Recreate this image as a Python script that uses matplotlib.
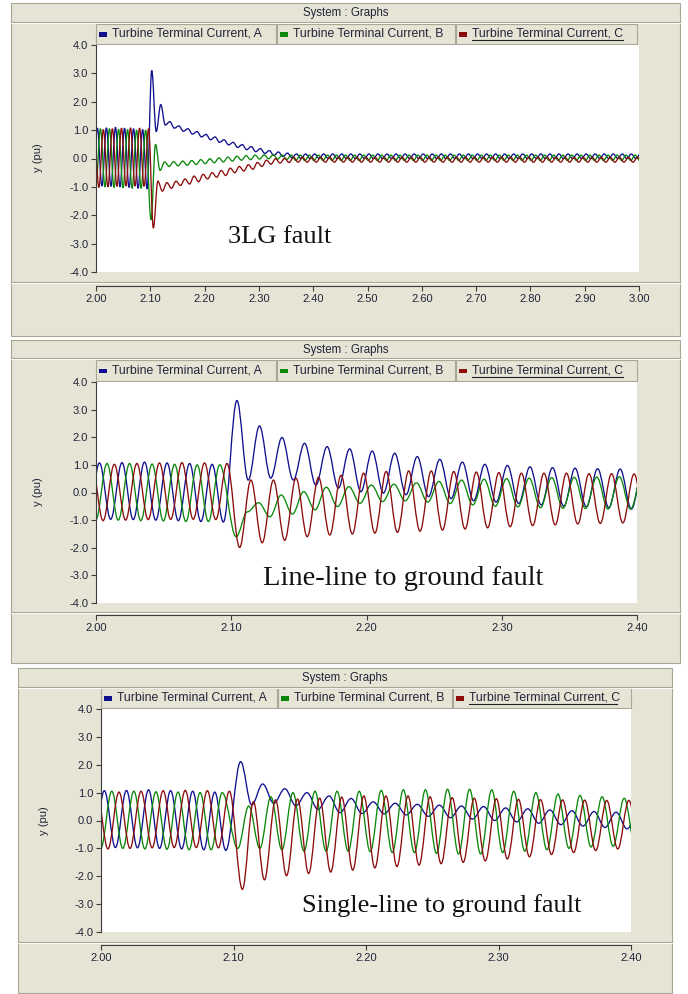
import matplotlib.pyplot as plt
from matplotlib.patches import Rectangle, PathPatch
from matplotlib.path import Path

# 60 Hz, 반주기 간격 (피크/골 샘플)
HALF = 1 / 120

# ---- 고장 전 피크값 (세 그래프 공통) ----
pre_a_t0, pre_b_t0, pre_c_t0 = 1.9942, 1.9998, 1.9969
pre_a = [-0.98, 1.07, -0.97, 1.08, -0.98, 1.10, -1.00, 1.07, -1.02, 1.05, -1.05, 1.02, -1.07]
pre_b = [-1.00, 1.05, -1.00, 1.05, -1.02, 1.03, -1.03, 1.02, -1.05, 1.00, -1.05, 1.00]
pre_c = [1.00, -1.02, 1.02, -1.00, 1.05, -0.98, 1.07, -0.97, 1.08, -0.97, 1.07, -0.98, 1.05]

# ---- 3LG fault (2.00 ~ 3.00) ----
lg3_a_t0 = 2.1026
lg3_a = [3.10, 0.95, 1.90, 1.18, 1.30, 1.07, 1.15, 0.96, 1.05, 0.86, 0.95, 0.76,
         0.85, 0.66, 0.76, 0.57, 0.66, 0.48, 0.57, 0.39, 0.49, 0.31, 0.42, 0.24,
         0.35, 0.18, 0.28, 0.11, 0.23, 0.07, 0.19, 0.03] + [0.16, 0.00] * 39
lg3_b_t0 = 2.1013
lg3_b = [-2.16, 0.50, -0.42, -0.12, -0.28, -0.11, -0.26, -0.09, -0.24, -0.07, -0.21,
         -0.04, -0.18, -0.01, -0.15, 0.02, -0.12, 0.05, -0.09, 0.08, -0.06, 0.10,
         -0.04, 0.12, -0.02, 0.13, -0.01, 0.13, -0.02, 0.12, -0.03] + [0.12, -0.07] * 39
lg3_c_t0 = 2.1056
lg3_c = [-2.45, -0.80, -1.15, -0.85, -1.05, -0.80, -0.95, -0.72, -0.90, -0.62, -0.82,
         -0.56, -0.72, -0.50, -0.66, -0.42, -0.60, -0.34, -0.50, -0.28, -0.44, -0.22,
         -0.38, -0.14, -0.28, -0.06, -0.20, -0.01, -0.16, 0.00, -0.14] + [0.04, -0.13] * 39

# ---- Line-line to ground fault (2.00 ~ 2.40) ----
llg_a_t0 = 2.1042
llg_a = [3.33, 0.45, 2.41, 0.52, 1.99, 0.45, 1.78, 0.27, 1.66, 0.16, 1.58, 0.03, 1.50,
         -0.02, 1.42, -0.08, 1.30, -0.15, 1.20, -0.22, 1.10, -0.30, 1.02, -0.35, 0.98,
         -0.40, 0.93, -0.45, 0.90, -0.50, 0.88, -0.52, 0.86, -0.55, 0.85, -0.60, 0.83]
llg_b_t0 = 2.1036
llg_b = [-1.60, -0.70, -0.37, -0.88, -0.09, -0.78, 0.03, -0.63, 0.19, -0.51, 0.21,
         -0.39, 0.27, -0.33, 0.30, -0.30, 0.35, -0.35, 0.40, -0.40, 0.45, -0.45, 0.48,
         -0.50, 0.50, -0.52, 0.52, -0.55, 0.54, -0.57, 0.55, -0.58, 0.56, -0.60, 0.57,
         -0.60, 0.58]
llg_c_t0 = 2.1062
llg_c = [-1.99, 0.45, -1.82, 0.45, -1.73, 0.52, -1.60, 0.55, -1.54, 0.62, -1.50, 0.70,
         -1.47, 0.76, -1.44, 0.78, -1.40, 0.78, -1.36, 0.76, -1.32, 0.74, -1.28, 0.72,
         -1.24, 0.70, -1.20, 0.70, -1.17, 0.70, -1.14, 0.68, -1.12, 0.68, -1.10, 0.67,
         -1.08]

# ---- Single-line to ground fault (2.00 ~ 2.40) ----
slg_a_t0 = 2.1054
slg_a = [2.11, 0.56, 1.31, 0.62, 1.14, 0.53, 1.00, 0.40, 0.88, 0.28, 0.79, 0.25, 0.67,
         0.24, 0.62, 0.20, 0.58, 0.15, 0.55, 0.10, 0.52, 0.05, 0.50, 0.00, 0.45, -0.05,
         0.42, -0.10, 0.38, -0.15, 0.35, -0.20, 0.32, -0.25, 0.30, -0.30, 0.28]
slg_b_t0 = 2.1032
slg_b = [-1.00, 0.52, -1.00, 0.85, -1.05, 1.00, -1.10, 1.05, -1.10, 1.05, -1.10, 1.05,
         -1.12, 1.08, -1.15, 1.10, -1.15, 1.10, -1.18, 1.12, -1.20, 1.12, -1.20, 1.10,
         -1.15, 1.05, -1.10, 1.00, -1.05, 0.95, -1.00, 0.90, -0.95, 0.85, -0.92, 0.80,
         -0.90]
slg_c_t0 = 2.1067
slg_c = [-2.47, 0.67, -2.13, 0.74, -1.98, 0.77, -1.90, 0.80, -1.85, 0.84, -1.78, 0.88,
         -1.70, 0.88, -1.65, 0.88, -1.60, 0.85, -1.55, 0.82, -1.50, 0.80, -1.45, 0.78,
         -1.38, 0.76, -1.30, 0.75, -1.22, 0.74, -1.15, 0.73, -1.08, 0.72, -1.02, 0.72,
         -0.98]

legend_labels = ['Turbine Terminal Current, A', 'Turbine Terminal Current, B',
                 'Turbine Terminal Current, C']
y_ticks = [-4, -3, -2, -1, 0, 1, 2, 3, 4]
lg3_xticks = [2.0, 2.1, 2.2, 2.3, 2.4, 2.5, 2.6, 2.7, 2.8, 2.9, 3.0]
short_xticks = [2.0, 2.1, 2.2, 2.3, 2.4]

colors = ['#10108e', '#0b880b', '#8c0c0c']
GRAY = '#e5e4d5'
EDGE = '#a8a796'
TXT = '#23233a'

W, H = 688, 994
fig = plt.figure(figsize=(W / 100, H / 100), dpi=100)
fig.patch.set_facecolor('white')

bg = fig.add_axes([0, 0, 1, 1])
bg.set_xlim(0, W)
bg.set_ylim(H, 0)
bg.axis('off')
bg.set_zorder(-1)


def fbox(x0, y0, x1, y1):
    return [x0 / W, 1 - y1 / H, (x1 - x0) / W, (y1 - y0) / H]


def wave_path(segments):
    # 피크/골을 반주기 간격으로 이어 곡선 경로 작성
    verts, codes = [], []
    for t0, vals in segments:
        for k, v in enumerate(vals):
            t = t0 + k * HALF
            if not verts:
                verts.append((t, v))
                codes.append(Path.MOVETO)
            else:
                tp, vp = verts[-1]
                d = (t - tp) * 0.36
                verts += [(tp + d, vp), (t - d, v), (t, v)]
                codes += [Path.CURVE4] * 3
    return Path(verts, codes)


panels = [
    dict(win=(11, 3, 680, 336), title_y=13, title_bot=22, leg=(24, 44),
         boxes=[(96, 276), (277, 455), (456, 637)], plot=(96, 45, 639, 272),
         sep=282, axis_y=286, xmax=3.0, xticks=lg3_xticks, ylab=(38, 158),
         series=[[(pre_a_t0, pre_a), (lg3_a_t0, lg3_a)],
                 [(pre_b_t0, pre_b), (lg3_b_t0, lg3_b)],
                 [(pre_c_t0, pre_c), (lg3_c_t0, lg3_c)]],
         note='3LG fault', note_xy=(228, 243), note_size=19),
    dict(win=(11, 340, 680, 663), title_y=350, title_bot=358, leg=(360, 381),
         boxes=[(96, 276), (277, 455), (456, 637)], plot=(96, 382, 637, 603),
         sep=612, axis_y=615, xmax=2.4, xticks=short_xticks, ylab=(38, 492),
         series=[[(pre_a_t0, pre_a), (llg_a_t0, llg_a)],
                 [(pre_b_t0, pre_b), (llg_b_t0, llg_b)],
                 [(pre_c_t0, pre_c), (llg_c_t0, llg_c)]],
         note='Line-line to ground fault', note_xy=(263, 585), note_size=20.5),
    dict(win=(18, 668, 672, 993), title_y=678, title_bot=687, leg=(688, 708),
         boxes=[(101, 277), (278, 452), (453, 631)], plot=(101, 709, 631, 932),
         sep=942, axis_y=945, xmax=2.4, xticks=short_xticks, ylab=(44, 821),
         series=[[(pre_a_t0, pre_a), (slg_a_t0, slg_a)],
                 [(pre_b_t0, pre_b), (slg_b_t0, slg_b)],
                 [(pre_c_t0, pre_c), (slg_c_t0, slg_c)]],
         note='Single-line to ground fault', note_xy=(302, 912), note_size=19),
]

for p in panels:
    x0, y0, x1, y1 = p['win']
    # 창 배경
    bg.add_patch(Rectangle((x0, y0), x1 - x0, y1 - y0, facecolor=GRAY,
                           edgecolor=EDGE, lw=0.8))
    bg.plot([x0, x1], [p['title_bot'], p['title_bot']], color=EDGE, lw=0.8)
    bg.plot([x0, x1], [p['title_bot'] + 1, p['title_bot'] + 1], color='white', lw=0.6)
    bg.text((x0 + x1) / 2, p['title_y'], 'System : Graphs', ha='center', va='center',
            family='Liberation Sans', fontsize=8.3, color=TXT)
    # 범례 상자
    ly0, ly1 = p['leg']
    for (bx0, bx1), lab, col in zip(p['boxes'], legend_labels, colors):
        bg.add_patch(Rectangle((bx0, ly0), bx1 - bx0, ly1 - ly0, facecolor=GRAY,
                               edgecolor=EDGE, lw=0.8))
        cy = (ly0 + ly1) / 2
        bg.add_patch(Rectangle((bx0 + 3, cy - 2), 8, 4.5, facecolor=col, edgecolor='none'))
        bg.text(bx0 + 16, cy, lab, ha='left', va='center', family='Liberation Sans',
                fontsize=8.8, color=TXT)
    # 마지막 범례 밑줄
    bx0, bx1 = p['boxes'][2]
    bg.plot([bx0 + 16, bx1 - 14], [ly1 - 4, ly1 - 4], color='#202020', lw=0.8)
    # x축 구분선
    bg.plot([x0, x1], [p['sep'], p['sep']], color=EDGE, lw=0.8)
    bg.plot([x0, x1], [p['sep'] + 1.2, p['sep'] + 1.2], color='white', lw=0.6)
    bg.text(p['ylab'][0], p['ylab'][1], 'y (pu)', rotation=90, ha='center', va='center',
            family='Liberation Sans', fontsize=8, color=TXT)

    ax = fig.add_axes(fbox(*p['plot']))
    ax.set_facecolor('white')
    ax.set_xlim(2.0, p['xmax'])
    ax.set_ylim(-4, 4)
    for segs, col in zip(p['series'], colors):
        ax.add_patch(PathPatch(wave_path(segs), fill=False, edgecolor=col, lw=0.95))
    ax.spines[['top', 'right']].set_visible(False)
    ax.spines['left'].set_color('#3c3c3c')
    ax.spines['bottom'].set_color('#3c3c3c')
    ax.spines['bottom'].set_position(('outward', (p['axis_y'] - p['plot'][3]) * 0.72))
    ax.set_yticks(y_ticks)
    ax.set_yticklabels([f'{v:.1f}' for v in y_ticks])
    ax.set_xticks(p['xticks'])
    ax.set_xticklabels([f'{v:.2f}' for v in p['xticks']])
    ax.tick_params(direction='out', length=3.6, width=0.8, color='#3c3c3c',
                   labelsize=8, labelcolor=TXT, pad=2)
    for lab in ax.get_xticklabels() + ax.get_yticklabels():
        lab.set_family('Liberation Sans')

    fig.text(p['note_xy'][0] / W, 1 - p['note_xy'][1] / H, p['note'],
             family='Liberation Serif', fontsize=p['note_size'], va='baseline',
             color='#111111', zorder=5)

fig.savefig('out.png', dpi=100, facecolor='white')
